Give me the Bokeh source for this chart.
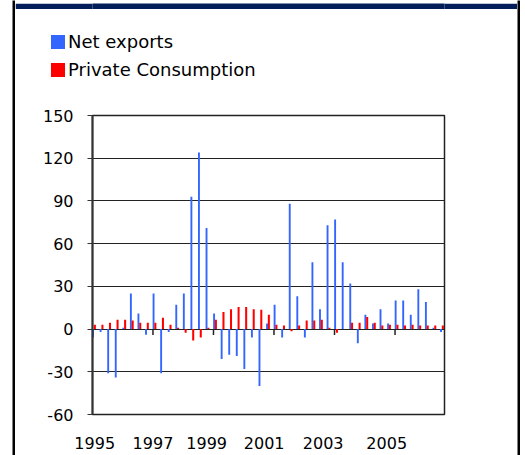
from bokeh.plotting import figure
from bokeh.models import (Range1d, FixedTicker, ColumnDataSource, Spacer, Div)
from bokeh.layouts import row, column
from bokeh.embed import file_html
from bokeh.resources import INLINE

# ---- data (quarterly, 1995Q1 .. 2006Q3) ----
years = list(range(1995, 2007))
quarters = [f"{y}Q{q}" for y in years for q in range(1, 5)][:47]
net_exports = [-6, -2, -31, -34, 1, 25, 11, -4, 25, -31, -2, 17,
               25, 93, 124, 71, 11, -21, -18, -19, -28, -6, -40, 4,
               17, -6, 88, 23, -6, 47, 14, 73, 77, 47, 32, -10,
               10, 4, 14, 4, 20, 20, 10, 28, 19, 1, -2]
private_consumption = [3, 3, 4.5, 6.5, 6.5, 6, 4.5, 4.5, 4.5, 8, 3, 1,
                       -2.5, -8, -6, 1, 6.5, 12, 14, 15.5, 15.5, 14, 13.5, 10,
                       3, 2.5, -1.5, 2.5, 6, 6, 6.5, 1, -2.5, 0, 4.5, 4.5,
                       8.5, 4.5, 2.5, 3, 3, 2.5, 3, 2.5, 2.5, 2.5, 2.5]
series_names = ["Net exports", "Private Consumption"]
year_labels = ["1995", "1997", "1999", "2001", "2003", "2005"]
y_ticks = [-60, -30, 0, 30, 60, 90, 120, 150]

BLUE = "#3366ff"
RED = "#ff0000"
NAVY = "#021d5a"
FONT = "DejaVu Sans"


def blank(w, h, color):
    f = figure(width=w, height=h, output_backend="svg", toolbar_location=None,
               x_axis_type=None, y_axis_type=None, min_border=0,
               background_fill_color=color, border_fill_color=color,
               outline_line_color=None)
    f.grid.visible = False
    return f


idx = list(range(len(quarters)))
src = ColumnDataSource(dict(
    i=idx,
    q=quarters,
    ne=net_exports,
    pc=private_consumption,
    ne_x=[v - 0.02 for v in idx],
    pc_x=[v + 0.22 for v in idx],
))

# ---- main chart ----
p = figure(width=502, height=355, output_backend="svg", toolbar_location=None,
           x_range=Range1d(-0.093, 46.44), y_range=Range1d(-60, 150),
           min_border_left=77, min_border_right=73, min_border_top=15,
           min_border_bottom=41, background_fill_color="white",
           border_fill_color="white")

p.vbar(x="ne_x", top="ne", bottom=0, width=0.25, source=src,
       fill_color=BLUE, line_color=None)
p.vbar(x="pc_x", top="pc", bottom=0, width=0.27, source=src,
       fill_color=RED, line_color=None)

# category tick marks on zero line (every 8 quarters)
tick_pos = [k * 8 - 0.1 for k in range(6)]
p.segment(x0=tick_pos, y0=[0] * 6, x1=tick_pos, y1=[-4.2] * 6,
          line_color="#222222", line_width=1.5)

label_pos = [0.2, 7.9, 15.0, 22.6, 30.4, 38.8]
xax = p.xaxis[0]
xax.ticker = FixedTicker(ticks=label_pos)
xax.major_label_overrides = {v: t for v, t in zip(label_pos, year_labels)}
xax.major_tick_out = 0
xax.major_tick_in = 0
xax.minor_tick_line_color = None
xax.axis_line_color = None
xax.major_label_standoff = 22
xax.major_label_text_font = FONT
xax.major_label_text_font_size = "16px"
xax.major_label_text_color = "black"

yax = p.yaxis[0]
yax.ticker = FixedTicker(ticks=y_ticks)
yax.major_label_overrides = {v: str(v) for v in y_ticks}
yax.major_tick_out = 5
yax.major_tick_in = 0
yax.minor_tick_line_color = None
yax.axis_line_color = "#333333"
yax.axis_line_width = 2
yax.major_tick_line_color = "#333333"
yax.major_label_standoff = 14
yax.major_label_text_font = FONT
yax.major_label_text_font_size = "16px"
yax.major_label_text_color = "black"

p.xgrid.visible = False
p.ygrid.ticker = FixedTicker(ticks=y_ticks)
p.ygrid.grid_line_color = "#222222"
p.ygrid.grid_line_width = 1
p.outline_line_color = "#222222"
p.outline_line_width = 1.5

# ---- legend strip ----
def legend_row(top, color, name):
    return (f'<div style="position:absolute;left:36px;top:{top + 3}px;width:14px;'
            f'height:14px;background:{color};"></div>'
            f'<div style="position:absolute;left:53px;top:{top}px;line-height:20px;'
            f'white-space:nowrap;">{name}</div>')

legend_html = (
    f'<div style="position:relative;width:502px;height:88px;font-family:\'{FONT}\';'
    'font-size:18px;color:#000;">'
    + legend_row(20, BLUE, series_names[0])
    + legend_row(48, RED, series_names[1])
    + '</div>'
)
lg = Div(text=legend_html, width=502, height=88,
         styles={"background-color": "white", "margin": "0", "padding": "0"})

layout = row(
    Spacer(width=12, height=455),
    blank(3, 455, "black"),
    column(blank(502, 9, NAVY), blank(502, 3, "black"), lg, p, spacing=0),
    blank(3, 455, "black"),
    spacing=0,
)

open("out.html", "w").write(file_html(layout, INLINE))
